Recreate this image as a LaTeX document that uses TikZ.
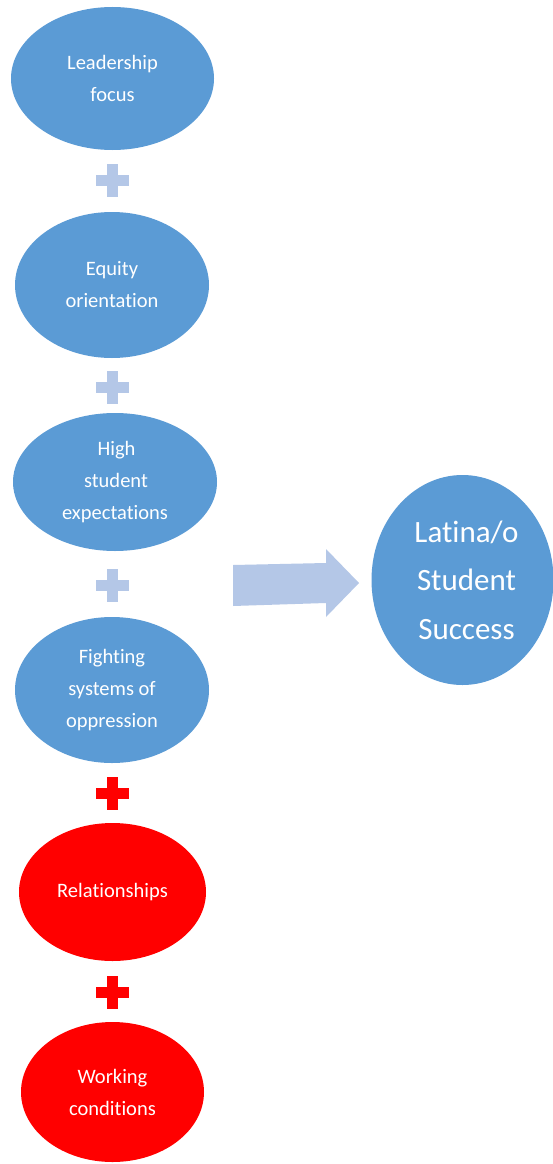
\documentclass[tikz,border=0pt]{standalone}
\usepackage{fontspec}
\setmainfont{Carlito}[Ligatures={NoCommon}]
\usetikzlibrary{shapes.geometric}
\definecolor{factorblue}{HTML}{5B9BD5}
\definecolor{factorred}{HTML}{FF0000}
\definecolor{plusblue}{HTML}{B4C7E7}
\tikzset{
  factor/.style={ellipse, fill=factorblue, text=white, inner sep=0pt,
    align=center, font=\fontsize{20.5}{32}\selectfont},
  keyfactor/.style={factor, fill=factorred},
  outcome/.style={ellipse, fill=factorblue, text=white, inner sep=0pt,
    align=center, font=\fontsize{31}{48.5}\selectfont},
}
\begin{document}
\begin{tikzpicture}[x=1pt,y=-1pt]
\useasboundingbox (0,0) rectangle (553,1164);
\fill[white] (0,0) rectangle (553,1164);

% factors stacked on the left
\node[factor, minimum width=203pt, minimum height=143pt] (lead) at (112.5,78.5) {Leadership\\focus};
\node[factor, minimum width=194pt, minimum height=146pt] (equity) at (112,285) {Equity\\orientation};
\node[factor, minimum width=204pt, minimum height=138pt] (expect) at (115,482) {\hspace*{3pt}High\\\hspace*{2pt}student\\expectations};
\node[factor, minimum width=194pt, minimum height=146pt] (fight) at (112,690) {Fighting\\systems of\\oppression};
\node[keyfactor, minimum width=187pt, minimum height=138pt] (rel) at (112.5,892) {Relationships};
\node[keyfactor, minimum width=183pt, minimum height=140pt] (work) at (112.5,1092) {Working\\conditions};

% outcome on the right
\node[outcome, minimum width=182pt, minimum height=210pt] (success) at (462.5,580) {\hspace*{8pt}Latina/o\\\hspace*{8pt}Student\\\hspace*{8pt}Success};

% plus signs between the factors
\foreach \yy/\col in {180/plusblue, 387/plusblue, 585/plusblue, 793/factorred, 992/factorred}{
  \fill[\col] (96,\yy-5.5) rectangle (129,\yy+5.5);
  \fill[\col] (107,\yy-16.5) rectangle (118,\yy+16.5);
}

% block arrow towards the outcome
\fill[plusblue] (233,565) -- (326,563) -- (326,549) -- (359,583)
  -- (326,617) -- (326,603) -- (233,606) -- cycle;
\end{tikzpicture}
\end{document}
